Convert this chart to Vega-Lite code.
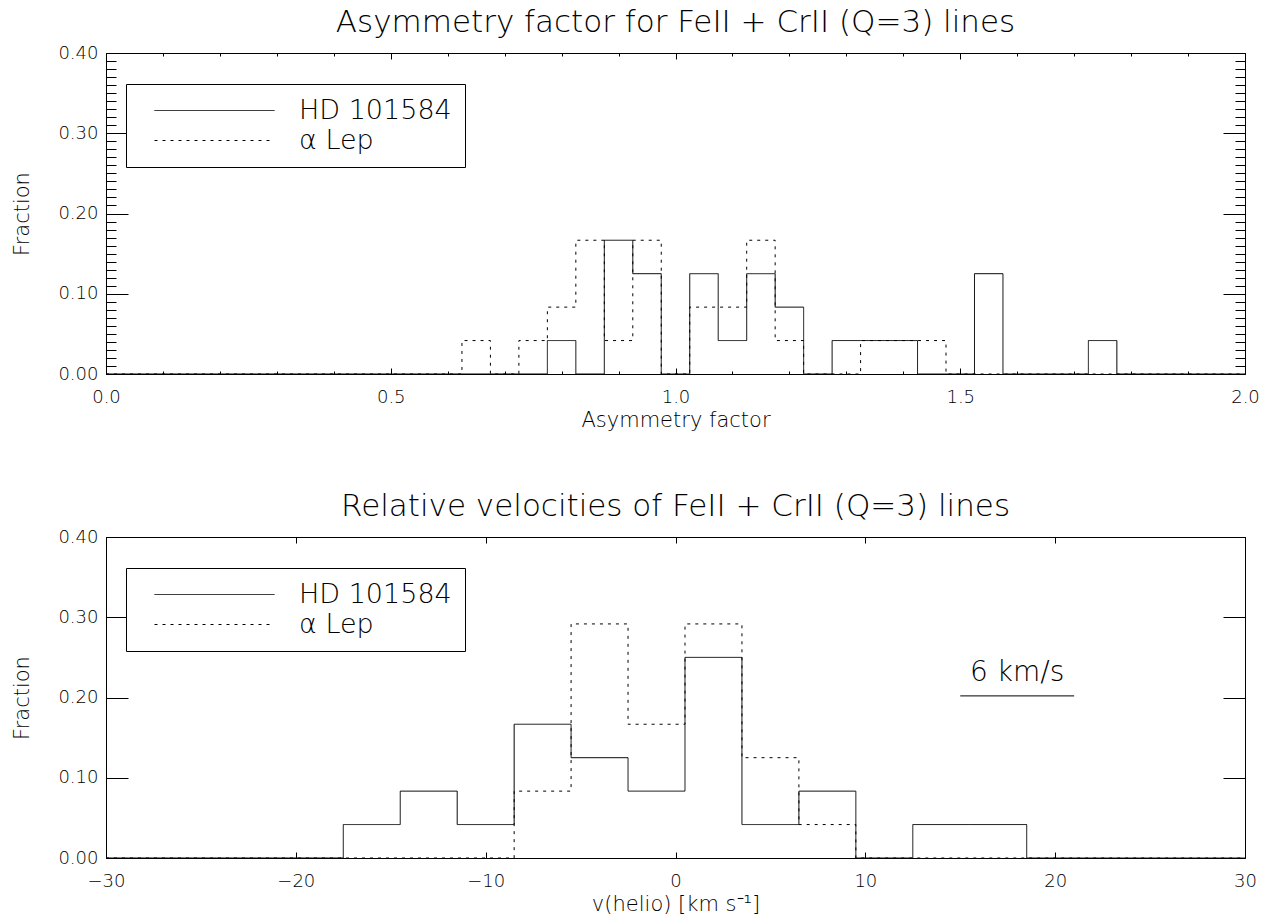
{
  "$schema": "https://vega.github.io/schema/vega-lite/v6.json",
  "padding": {"left": 11, "top": 6, "right": 5, "bottom": 5},
  "background": "white",
  "config": {
    "view": {"stroke": "black", "strokeWidth": 1},
    "font": "DejaVu Sans",
    "axis": {"labelFontSize": 18, "titleFontSize": 21, "labelColor": "black", "titleColor": "black", "tickColor": "black", "titleFontWeight": 200, "labelFontWeight": 200, "labelFont": "DejaVu Sans", "titleFont": "DejaVu Sans", "grid": false, "domain": false, "labelFlush": false, "tickWidth": 1},
    "title": {"fontSize": 31, "fontWeight": 200, "color": "black", "font": "DejaVu Sans", "offset": 5},
    "legend": {"orient": "none", "legendX": 20, "legendY": 31, "title": null, "strokeColor": "black", "fillColor": "white", "padding": 13, "symbolType": "M-6,0H6", "symbolSize": 400, "symbolStrokeWidth": 1, "symbolStrokeColor": "black", "symbolFillColor": "transparent", "labelFontSize": 27, "labelFontWeight": 200, "labelColor": "black", "labelOffset": 71, "symbolOffset": 62, "rowPadding": 2, "labelFont": "DejaVu Sans"}
  },
  "datasets": {
    "asym": [
      {"x": 0.0, "f": 0, "star": "HD 101584"},
      {"x": 0.75, "f": 0, "star": "HD 101584"},
      {"x": 0.80, "f": 0.04167, "star": "HD 101584"},
      {"x": 0.85, "f": 0, "star": "HD 101584"},
      {"x": 0.90, "f": 0.16667, "star": "HD 101584"},
      {"x": 0.95, "f": 0.125, "star": "HD 101584"},
      {"x": 1.00, "f": 0, "star": "HD 101584"},
      {"x": 1.05, "f": 0.125, "star": "HD 101584"},
      {"x": 1.10, "f": 0.04167, "star": "HD 101584"},
      {"x": 1.15, "f": 0.125, "star": "HD 101584"},
      {"x": 1.20, "f": 0.08333, "star": "HD 101584"},
      {"x": 1.25, "f": 0, "star": "HD 101584"},
      {"x": 1.30, "f": 0.04167, "star": "HD 101584"},
      {"x": 1.35, "f": 0.04167, "star": "HD 101584"},
      {"x": 1.40, "f": 0.04167, "star": "HD 101584"},
      {"x": 1.45, "f": 0, "star": "HD 101584"},
      {"x": 1.50, "f": 0, "star": "HD 101584"},
      {"x": 1.55, "f": 0.125, "star": "HD 101584"},
      {"x": 1.60, "f": 0, "star": "HD 101584"},
      {"x": 1.65, "f": 0, "star": "HD 101584"},
      {"x": 1.70, "f": 0, "star": "HD 101584"},
      {"x": 1.75, "f": 0.04167, "star": "HD 101584"},
      {"x": 1.80, "f": 0, "star": "HD 101584"},
      {"x": 2.0, "f": 0, "star": "HD 101584"},
      {"x": 0.0, "f": 0, "star": "α Lep"},
      {"x": 0.60, "f": 0, "star": "α Lep"},
      {"x": 0.65, "f": 0.04167, "star": "α Lep"},
      {"x": 0.70, "f": 0, "star": "α Lep"},
      {"x": 0.75, "f": 0.04167, "star": "α Lep"},
      {"x": 0.80, "f": 0.08333, "star": "α Lep"},
      {"x": 0.85, "f": 0.16667, "star": "α Lep"},
      {"x": 0.90, "f": 0.04167, "star": "α Lep"},
      {"x": 0.95, "f": 0.16667, "star": "α Lep"},
      {"x": 1.00, "f": 0, "star": "α Lep"},
      {"x": 1.05, "f": 0.08333, "star": "α Lep"},
      {"x": 1.10, "f": 0.08333, "star": "α Lep"},
      {"x": 1.15, "f": 0.16667, "star": "α Lep"},
      {"x": 1.20, "f": 0.04167, "star": "α Lep"},
      {"x": 1.25, "f": 0, "star": "α Lep"},
      {"x": 1.30, "f": 0, "star": "α Lep"},
      {"x": 1.35, "f": 0.04167, "star": "α Lep"},
      {"x": 1.40, "f": 0.04167, "star": "α Lep"},
      {"x": 1.45, "f": 0.04167, "star": "α Lep"},
      {"x": 1.50, "f": 0, "star": "α Lep"},
      {"x": 2.0, "f": 0, "star": "α Lep"}
    ],
    "vel": [
      {"x": -30, "f": 0, "star": "HD 101584"},
      {"x": -19, "f": 0, "star": "HD 101584"},
      {"x": -16, "f": 0.04167, "star": "HD 101584"},
      {"x": -13, "f": 0.08333, "star": "HD 101584"},
      {"x": -10, "f": 0.04167, "star": "HD 101584"},
      {"x": -7, "f": 0.16667, "star": "HD 101584"},
      {"x": -4, "f": 0.125, "star": "HD 101584"},
      {"x": -1, "f": 0.08333, "star": "HD 101584"},
      {"x": 2, "f": 0.25, "star": "HD 101584"},
      {"x": 5, "f": 0.04167, "star": "HD 101584"},
      {"x": 8, "f": 0.08333, "star": "HD 101584"},
      {"x": 11, "f": 0, "star": "HD 101584"},
      {"x": 14, "f": 0.04167, "star": "HD 101584"},
      {"x": 17, "f": 0.04167, "star": "HD 101584"},
      {"x": 20, "f": 0, "star": "HD 101584"},
      {"x": 30, "f": 0, "star": "HD 101584"},
      {"x": -30, "f": 0, "star": "α Lep"},
      {"x": -10, "f": 0, "star": "α Lep"},
      {"x": -7, "f": 0.08333, "star": "α Lep"},
      {"x": -4, "f": 0.29167, "star": "α Lep"},
      {"x": -1, "f": 0.16667, "star": "α Lep"},
      {"x": 2, "f": 0.29167, "star": "α Lep"},
      {"x": 5, "f": 0.125, "star": "α Lep"},
      {"x": 8, "f": 0.04167, "star": "α Lep"},
      {"x": 11, "f": 0, "star": "α Lep"},
      {"x": 30, "f": 0, "star": "α Lep"}
    ],
    "bar": [
      {"x1": 15, "x2": 21, "y": 0.202, "tx": 18, "ty": 0.221, "label": "6 km/s"}
    ]
  },
  "spacing": 59,
  "resolve": {"scale": {"strokeDash": "independent"}, "legend": {"strokeDash": "independent"}},
  "vconcat": [
    {
      "title": {"text": "Asymmetry factor for FeII + CrII (Q=3) lines"},
      "width": 1139,
      "height": 321,
      "data": {"name": "asym"},
      "layer": [
        {
          "mark": {"type": "line", "interpolate": "step", "color": "black", "strokeWidth": 1},
          "encoding": {
            "x": {"field": "x", "type": "quantitative", "scale": {"domain": [0, 2], "nice": false, "zero": false}, "axis": {"title": "Asymmetry factor", "values": [0, 0.5, 1, 1.5, 2], "format": ".1f", "ticks": false, "labelPadding": 14, "titlePadding": 3}},
            "y": {"field": "f", "type": "quantitative", "scale": {"domain": [0, 0.4], "nice": false}, "axis": {"title": "Fraction", "values": [0, 0.1, 0.2, 0.3, 0.4], "format": ".2f", "ticks": false, "labelPadding": 8, "titlePadding": 25}},
            "strokeDash": {"field": "star", "type": "nominal", "scale": {"domain": ["HD 101584", "α Lep"], "range": [[1, 0], [3, 5]]}, "legend": {}}
          }
        },
        {
          "mark": {"type": "point", "opacity": 0},
          "encoding": {
            "x": {"field": "x", "type": "quantitative", "axis": {"orient": "bottom", "labels": false, "title": null, "tickSize": -6, "values": [0, 0.5, 1, 1.5, 2]}},
            "y": {"field": "f", "type": "quantitative", "axis": {"orient": "left", "labels": false, "title": null, "tickSize": -22, "values": [0, 0.1, 0.2, 0.3, 0.4]}}
          }
        },
        {
          "mark": {"type": "point", "opacity": 0},
          "encoding": {
            "x": {"field": "x", "type": "quantitative", "axis": {"orient": "top", "labels": false, "title": null, "tickSize": -6, "values": [0, 0.5, 1, 1.5, 2]}},
            "y": {"field": "f", "type": "quantitative", "axis": {"orient": "right", "labels": false, "title": null, "tickSize": -22, "values": [0, 0.1, 0.2, 0.3, 0.4]}}
          }
        },
        {
          "mark": {"type": "point", "opacity": 0},
          "encoding": {
            "x": {"field": "x", "type": "quantitative", "axis": {"orient": "bottom", "labels": false, "title": null, "tickSize": -3, "values": [0.1, 0.2, 0.3, 0.4, 0.6, 0.7, 0.8, 0.9, 1.1, 1.2, 1.3, 1.4, 1.6, 1.7, 1.8, 1.9]}},
            "y": {"field": "f", "type": "quantitative", "axis": {"orient": "left", "labels": false, "title": null, "tickSize": -10, "values": [0.01, 0.02, 0.03, 0.04, 0.05, 0.06, 0.07, 0.08, 0.09, 0.11, 0.12, 0.13, 0.14, 0.15, 0.16, 0.17, 0.18, 0.19, 0.21, 0.22, 0.23, 0.24, 0.25, 0.26, 0.27, 0.28, 0.29, 0.31, 0.32, 0.33, 0.34, 0.35, 0.36, 0.37, 0.38, 0.39]}}
          }
        },
        {
          "mark": {"type": "point", "opacity": 0},
          "encoding": {
            "x": {"field": "x", "type": "quantitative", "axis": {"orient": "top", "labels": false, "title": null, "tickSize": -3, "values": [0.1, 0.2, 0.3, 0.4, 0.6, 0.7, 0.8, 0.9, 1.1, 1.2, 1.3, 1.4, 1.6, 1.7, 1.8, 1.9]}},
            "y": {"field": "f", "type": "quantitative", "axis": {"orient": "right", "labels": false, "title": null, "tickSize": -10, "values": [0.01, 0.02, 0.03, 0.04, 0.05, 0.06, 0.07, 0.08, 0.09, 0.11, 0.12, 0.13, 0.14, 0.15, 0.16, 0.17, 0.18, 0.19, 0.21, 0.22, 0.23, 0.24, 0.25, 0.26, 0.27, 0.28, 0.29, 0.31, 0.32, 0.33, 0.34, 0.35, 0.36, 0.37, 0.38, 0.39]}}
          }
        }
      ],
      "resolve": {"axis": {"x": "independent", "y": "independent"}}
    },
    {
      "title": {"text": "Relative velocities of FeII + CrII (Q=3) lines"},
      "width": 1139,
      "height": 321,
      "layer": [
        {
          "data": {"name": "vel"},
          "mark": {"type": "line", "interpolate": "step", "color": "black", "strokeWidth": 1},
          "encoding": {
            "x": {"field": "x", "type": "quantitative", "scale": {"domain": [-30, 30], "nice": false, "zero": false}, "axis": {"title": "v(helio) [km s⁻¹]", "values": [-30, -20, -10, 0, 10, 20, 30], "format": "d", "ticks": false, "labelPadding": 14, "titlePadding": 3}},
            "y": {"field": "f", "type": "quantitative", "scale": {"domain": [0, 0.4], "nice": false}, "axis": {"title": "Fraction", "values": [0, 0.1, 0.2, 0.3, 0.4], "format": ".2f", "ticks": false, "labelPadding": 8, "titlePadding": 25}},
            "strokeDash": {"field": "star", "type": "nominal", "scale": {"domain": ["HD 101584", "α Lep"], "range": [[1, 0], [3, 5]]}, "legend": {}}
          }
        },
        {
          "data": {"name": "vel"},
          "mark": {"type": "point", "opacity": 0},
          "encoding": {
            "x": {"field": "x", "type": "quantitative", "axis": {"orient": "bottom", "labels": false, "title": null, "tickSize": -6, "values": [-30, -20, -10, 0, 10, 20, 30]}},
            "y": {"field": "f", "type": "quantitative", "axis": {"orient": "left", "labels": false, "title": null, "tickSize": -22, "values": [0, 0.1, 0.2, 0.3, 0.4]}}
          }
        },
        {
          "data": {"name": "vel"},
          "mark": {"type": "point", "opacity": 0},
          "encoding": {
            "x": {"field": "x", "type": "quantitative", "axis": {"orient": "top", "labels": false, "title": null, "tickSize": -6, "values": [-30, -20, -10, 0, 10, 20, 30]}},
            "y": {"field": "f", "type": "quantitative", "axis": {"orient": "right", "labels": false, "title": null, "tickSize": -22, "values": [0, 0.1, 0.2, 0.3, 0.4]}}
          }
        },
        {
          "data": {"name": "bar"},
          "mark": {"type": "rule", "color": "black", "strokeWidth": 1},
          "encoding": {
            "x": {"field": "x1", "type": "quantitative", "axis": null},
            "x2": {"field": "x2"},
            "y": {"field": "y", "type": "quantitative", "axis": null}
          }
        },
        {
          "data": {"name": "bar"},
          "mark": {"type": "text", "color": "black", "fontSize": 28, "fontWeight": 200, "font": "DejaVu Sans", "baseline": "alphabetic", "align": "center"},
          "encoding": {
            "x": {"field": "tx", "type": "quantitative", "axis": null},
            "y": {"field": "ty", "type": "quantitative", "axis": null},
            "text": {"field": "label"}
          }
        }
      ],
      "resolve": {"axis": {"x": "independent", "y": "independent"}}
    }
  ]
}
